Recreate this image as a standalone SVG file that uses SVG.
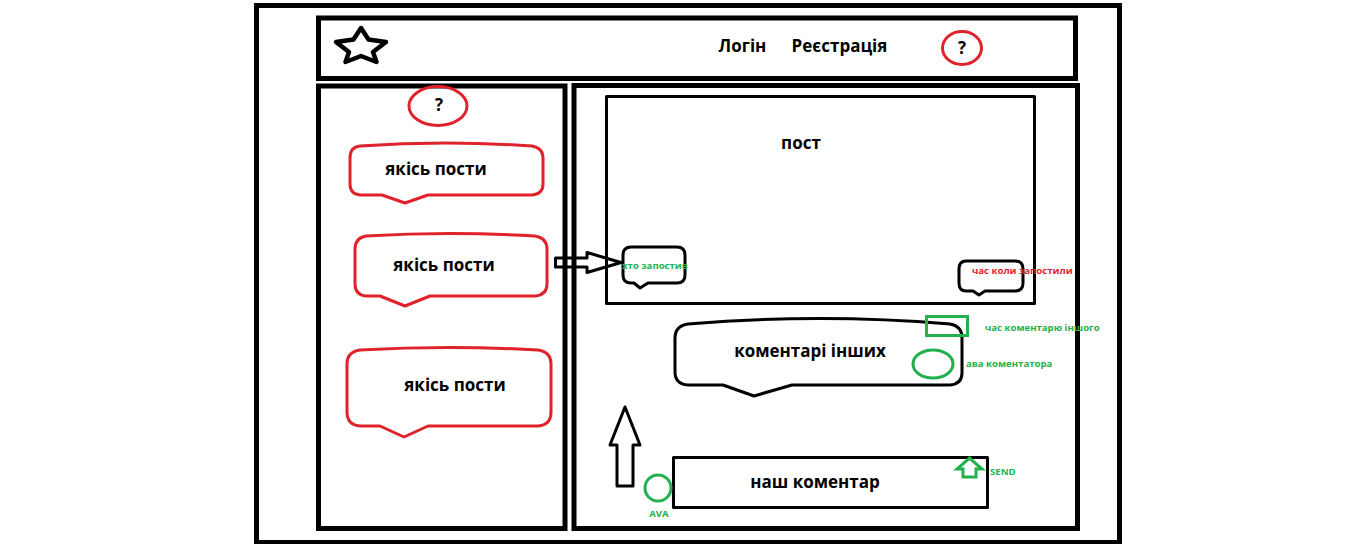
<svg xmlns="http://www.w3.org/2000/svg" width="1346" height="544" viewBox="0 0 1346 544">
<style>
.frame{fill:none;stroke:#000;stroke-width:5}
.thin{fill:none;stroke:#000;stroke-width:3;stroke-linejoin:round}
.red{fill:none;stroke:#e0222b;stroke-width:3;stroke-linejoin:round}
.grn{fill:none;stroke:#22b14c;stroke-width:3;stroke-linejoin:miter}
.lbl{font-family:"Open Sans","Noto Sans",sans-serif;font-weight:bold;font-size:17px;fill:#000;text-anchor:middle}
.sm{font-family:"Open Sans","Noto Sans",sans-serif;font-weight:bold;font-size:9.6px}
.g{fill:#22b14c}
.r{fill:#e0222b}
</style>
<rect width="1346" height="544" fill="#fff"/>
<g id="outer"><rect class="frame" x="256.5" y="5.5" width="863" height="537"/></g>
<g id="header">
<rect class="frame" x="318.5" y="18" width="757" height="60.5"/>
<polygon points="361,28 368.5,39.5 386,42 373,52 376.5,62 361,56 345.5,62 349,52 336,42 353.5,39.5" fill="none" stroke="#000" stroke-width="4.5" stroke-linejoin="round"/>
<text class="lbl" x="742.5" y="52">Логін</text>
<text class="lbl" x="839.5" y="52">Реєстрація</text>
</g>
<g id="help-top"><ellipse class="red" cx="962" cy="48" rx="19.5" ry="16.5"/><text class="lbl" x="962" y="54">?</text></g>
<g id="left-panel"><rect class="frame" x="318.5" y="86" width="246.5" height="442.5"/></g>
<g id="help-left"><ellipse class="red" cx="438" cy="106" rx="29" ry="19.5"/><text class="lbl" x="439" y="111">?</text></g>
<g id="post-1">
<path class="red" d="M360,146 Q446,140 532,146 Q543,148 543,158 L543,184 Q543,194 532,195 L428,195 L405,203 L382,195 L360,195 Q350,194 350,184 L350,158 Q350,147 360,146 Z"/>
<text class="lbl" x="436" y="175">якісь пости</text>
</g>
<g id="post-2">
<path class="red" d="M366,236 Q450,231 535,236 Q547,238 547,249 L547,284 Q547,295 535,296 L430,296 L405,306 L380,296 L366,296 Q355,295 355,284 L355,249 Q355,238 366,236 Z"/>
<text class="lbl" x="444" y="271">якісь пости</text>
</g>
<g id="post-3">
<path class="red" d="M360,350 Q449,345 538,350 Q551,352 551,364 L551,412 Q551,425 538,426 L428,426 L404,437 L380,426 L360,426 Q347,425 347,412 L347,364 Q347,352 360,350 Z"/>
<text class="lbl" x="455" y="391">якісь пости</text>
</g>
<g id="right-panel"><rect class="frame" x="574" y="85.5" width="503.5" height="443"/></g>
<g id="post">
<rect class="thin" x="606.5" y="96.5" width="428" height="207"/>
<text class="lbl" x="801" y="149">пост</text>
</g>
<g id="author">
<path class="thin" d="M631,247 L677,247 Q685,247 685,255 L685,275 Q685,283 677,283 L648,283 L640,288 L634,283 L631,283 Q623,283 623,275 L623,255 Q623,247 631,247 Z"/>
<text class="sm g" x="622" y="268.5">хто запостив</text>
</g>
<g id="time">
<path class="thin" d="M966,261 L1015,261 Q1023,261 1023,269 L1023,283 Q1023,291 1015,291 L985,291 L979,295 L973,291 L966,291 Q959,291 959,283 L959,269 Q959,261 966,261 Z"/>
<text class="sm r" x="972" y="273.5">час коли запостили</text>
</g>
<g id="others-comments">
<path class="thin" d="M688,324 Q820,313 950,324 Q962,326 962,338 L962,373 Q962,384 950,385 L792,385 L754,396 L723,385 L688,385 Q675,384 675,372 L675,338 Q675,326 688,324 Z"/>
<text class="lbl" x="810" y="357">коментарі інших</text>
<rect class="grn" x="926.5" y="316.5" width="41" height="19"/>
<text class="sm g" x="985" y="330.5">час коментарю іншого</text>
<ellipse class="grn" cx="933" cy="364" rx="20" ry="14"/>
<text class="sm g" x="966" y="366.5">ава коментатора</text>
</g>
<g id="our-comment">
<rect class="thin" x="673.5" y="457.5" width="314" height="50"/>
<text class="lbl" x="815" y="488">наш коментар</text>
<circle class="grn" cx="658" cy="488" r="13"/>
<text class="sm g" x="659" y="516.5" text-anchor="middle">AVA</text>
<polygon class="grn" points="969.5,458 982,469 976,469 976,477 963,477 963,469 957,469"/>
<text class="sm g" x="990" y="474.5">SEND</text>
</g>
<g id="connectors">
<polygon class="thin" points="555.5,258 587,258 587,252.5 621,262.5 587,272.5 587,267 555.5,267"/>
<polygon class="thin" points="625,407 640,445 633,445 633,486 617,486 617,445 610,445"/>
</g>
</svg>
